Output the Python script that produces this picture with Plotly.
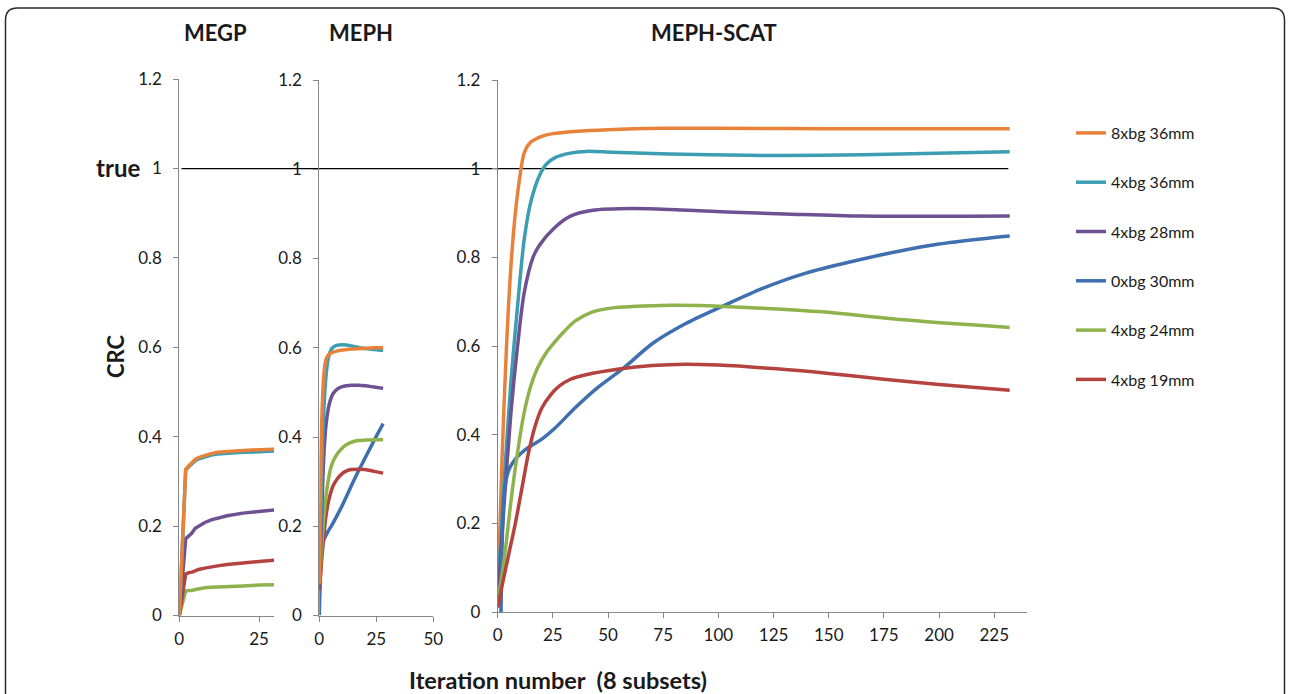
import plotly.graph_objects as go

W, H = 1290, 694

# ---------------- data ----------------
series_names = ["8xbg 36mm", "4xbg 36mm", "4xbg 28mm", "0xbg 30mm", "4xbg 24mm", "4xbg 19mm"]
series_colors = ["#E8823A", "#3D9DB3", "#6E5193", "#3F6FAF", "#8EB24C", "#B4423F"]
true_value = 1.0

panel_titles = ["MEGP", "MEPH", "MEPH-SCAT"]

# MEGP
megp_x = [0, 2, 3, 4, 5, 6, 8, 10, 12, 15, 20, 25, 30]
megp_8x36 = [0, 0.327, 0.335, 0.342, 0.349, 0.353, 0.358, 0.362, 0.365, 0.367, 0.369, 0.371, 0.372]
megp_4x36 = [0, 0.325, 0.333, 0.340, 0.346, 0.350, 0.355, 0.359, 0.361, 0.363, 0.365, 0.366, 0.368]
megp_4x28 = [0, 0.172, 0.178, 0.185, 0.195, 0.200, 0.208, 0.214, 0.218, 0.223, 0.229, 0.233, 0.236]
megp_4x24 = [0, 0.055, 0.056, 0.056, 0.058, 0.060, 0.062, 0.063, 0.064, 0.065, 0.066, 0.068, 0.069]
megp_4x19 = [0, 0.093, 0.096, 0.097, 0.100, 0.103, 0.106, 0.109, 0.111, 0.114, 0.118, 0.121, 0.124]

# MEPH
meph_x = [0, 1, 2, 3, 4, 5, 6, 8, 10, 12, 14, 17, 20, 24, 28]
meph_8x36 = [0.07, 0.42, 0.54, 0.575, 0.584, 0.588, 0.590, 0.593, 0.595, 0.596, 0.597, 0.598, 0.599, 0.600, 0.600]
meph_4x36 = [0.07, 0.30, 0.46, 0.540, 0.578, 0.594, 0.601, 0.606, 0.607, 0.606, 0.604, 0.601, 0.598, 0.596, 0.594]
meph_4x28 = [0.06, 0.22, 0.36, 0.430, 0.465, 0.485, 0.497, 0.508, 0.513, 0.515, 0.516, 0.516, 0.515, 0.512, 0.509]
meph_0x30 = [0.00, 0.14, 0.17, 0.180, 0.190, 0.198, 0.207, 0.226, 0.246, 0.268, 0.290, 0.322, 0.352, 0.392, 0.430]
meph_4x24 = [0.068, 0.15, 0.22, 0.270, 0.305, 0.330, 0.345, 0.363, 0.375, 0.383, 0.388, 0.392, 0.393, 0.394, 0.394]
meph_4x19 = [0.056, 0.12, 0.18, 0.225, 0.255, 0.275, 0.290, 0.307, 0.318, 0.324, 0.327, 0.328, 0.327, 0.323, 0.319]

# MEPH-SCAT
scat_8x36_x = [0, 2, 4, 6, 8, 10, 12, 15, 20, 25, 35, 50, 75, 100, 150, 232]
scat_8x36 = [0.03, 0.35, 0.60, 0.78, 0.90, 0.98, 1.035, 1.06, 1.073, 1.079, 1.084, 1.088, 1.091, 1.091, 1.090, 1.090]
scat_4x36_x = [0, 3, 6, 9, 12, 15, 19, 22, 26, 33, 40, 52, 78, 113, 147, 182, 232]
scat_4x36 = [0.04, 0.30, 0.52, 0.69, 0.84, 0.925, 0.985, 1.01, 1.025, 1.035, 1.039, 1.037, 1.033, 1.030, 1.030, 1.033, 1.038]
scat_4x28_x = [0, 3, 6, 9, 12, 16, 19, 26, 33, 43, 61, 78, 104, 130, 165, 232]
scat_4x28 = [0.03, 0.25, 0.45, 0.60, 0.72, 0.80, 0.828, 0.868, 0.893, 0.906, 0.910, 0.908, 0.902, 0.898, 0.893, 0.893]
scat_0x30_x = [1.5, 2, 3, 5, 8, 13, 20, 26, 35, 45, 57, 70, 85, 102, 120, 140, 160, 180, 200, 220, 232]
scat_0x30 = [0.0, 0.15, 0.27, 0.32, 0.345, 0.368, 0.39, 0.415, 0.46, 0.505, 0.55, 0.605, 0.65, 0.69, 0.73, 0.765, 0.79, 0.812, 0.83, 0.842, 0.848]
scat_4x24_x = [0, 3, 6, 9, 12, 15, 18, 22, 26, 30, 35, 43, 52, 61, 78, 95, 113, 147, 182, 232]
scat_4x24 = [0.02, 0.12, 0.25, 0.36, 0.45, 0.51, 0.55, 0.585, 0.61, 0.632, 0.656, 0.677, 0.686, 0.689, 0.692, 0.691, 0.687, 0.677, 0.660, 0.642]
scat_4x19_x = [0, 2, 5, 8, 11, 14, 17, 20, 24, 28, 33, 40, 55, 70, 85, 100, 125, 150, 175, 200, 232]
scat_4x19 = [0.01, 0.06, 0.13, 0.20, 0.28, 0.36, 0.42, 0.46, 0.49, 0.51, 0.525, 0.535, 0.548, 0.556, 0.559, 0.557, 0.549, 0.538, 0.525, 0.513, 0.500]

x_tick_vals_small = [0, 25]
x_tick_vals_meph = [0, 25, 50]
x_tick_vals_scat = [0, 25, 50, 75, 100, 125, 150, 175, 200, 225]
y_tick_vals = [0, 0.2, 0.4, 0.6, 0.8, 1, 1.2]

# ---------------- layout helpers (arguments are page pixels) ----------------
def px_x(p):
    return p / W

def px_y(p):
    return 1 - p / H

FONT = "Lato, 'Open Sans', sans-serif"
AX_COLOR = "#868686"
TXT = "#1a1a1a"

fig = go.Figure()

def add(x, y, idx, xa, ya, shape="spline", legend=False):
    fig.add_trace(go.Scatter(
        x=x, y=y, mode="lines", name=series_names[idx],
        line=dict(color=series_colors[idx], width=3.5, shape=shape, smoothing=0.8),
        xaxis=xa, yaxis=ya, showlegend=legend, legendgroup=series_names[idx],
        hoverinfo="skip"))

add(scat_8x36_x, scat_8x36, 0, "x3", "y3", legend=True)
add(scat_4x36_x, scat_4x36, 1, "x3", "y3", legend=True)
add(scat_4x28_x, scat_4x28, 2, "x3", "y3", legend=True)
add(scat_0x30_x, scat_0x30, 3, "x3", "y3", legend=True)
add(scat_4x24_x, scat_4x24, 4, "x3", "y3", legend=True)
add(scat_4x19_x, scat_4x19, 5, "x3", "y3", legend=True)

add(megp_x, megp_4x24, 4, "x", "y", shape="linear")
add(megp_x, megp_4x19, 5, "x", "y", shape="linear")
add(megp_x, megp_4x28, 2, "x", "y", shape="linear")
add(megp_x, megp_4x36, 1, "x", "y", shape="linear")
add(megp_x, megp_8x36, 0, "x", "y", shape="linear")

add(meph_x, meph_0x30, 3, "x2", "y2")
add(meph_x, meph_4x19, 5, "x2", "y2")
add(meph_x, meph_4x24, 4, "x2", "y2")
add(meph_x, meph_4x28, 2, "x2", "y2")
add(meph_x, meph_4x36, 1, "x2", "y2")
add(meph_x, meph_8x36, 0, "x2", "y2")

TICK_SIZE = 17

def xaxis(domain, rng, tickvals, anchor):
    return dict(domain=domain, range=rng, tickvals=tickvals, anchor=anchor,
                showline=True, linecolor=AX_COLOR, linewidth=1, ticks="outside",
                tickcolor=AX_COLOR, ticklen=5, showgrid=False, zeroline=False,
                tickfont=dict(family=FONT, size=TICK_SIZE, color=TXT), ticklabelstandoff=3,
                automargin=False, fixedrange=True)

def yaxis(domain, anchor):
    return dict(domain=domain, range=[0, 1.2], tickvals=y_tick_vals, anchor=anchor,
                showline=True, linecolor=AX_COLOR, linewidth=1, ticks="outside",
                tickcolor=AX_COLOR, ticklen=5, showgrid=False, zeroline=False,
                tickfont=dict(family=FONT, size=TICK_SIZE, color=TXT), ticklabelstandoff=8,
                automargin=False, fixedrange=True)

fig.update_layout(
    template="none",
    width=W, height=H, margin=dict(l=0, r=0, t=0, b=0, pad=0, autoexpand=False),
    paper_bgcolor="white", plot_bgcolor="rgba(0,0,0,0)",
    font=dict(family=FONT, color=TXT),
    xaxis=xaxis([px_x(179.3), px_x(274)], [0, 29.7], x_tick_vals_small, "y"),
    yaxis=yaxis([px_y(615.5), px_y(79)], "x"),
    xaxis2=xaxis([px_x(319.3), px_x(433.3)], [0, 50], x_tick_vals_meph, "y2"),
    yaxis2=yaxis([px_y(615.5), px_y(80)], "x2"),
    xaxis3=xaxis([px_x(497.7), px_x(1026.7)], [0, 239.7], x_tick_vals_scat, "y3"),
    yaxis3=yaxis([px_y(612), px_y(80)], "x3"),
    legend=dict(x=px_x(1071), y=px_y(116), xanchor="left", yanchor="top",
                font=dict(family=FONT, size=16, color=TXT), tracegroupgap=25.5,
                bgcolor="rgba(0,0,0,0)", borderwidth=0, itemwidth=30),
    showlegend=True,
)

# reference "true" line
fig.add_shape(type="line", xref="paper", yref="y3", x0=px_x(181.5), x1=px_x(1008.3),
              y0=true_value, y1=true_value, line=dict(color="black", width=1.3), layer="below")

# rounded border
x0, x1, yt, yb = px_x(5.5), px_x(1284.5), px_y(8), px_y(730)
rx, ry = 12 / W, 12 / H
path = (f"M {x0},{yb} L {x0},{yt - ry} Q {x0},{yt} {x0 + rx},{yt} "
        f"L {x1 - rx},{yt} Q {x1},{yt} {x1},{yt - ry} L {x1},{yb}")
fig.add_shape(type="path", xref="paper", yref="paper", path=path,
              line=dict(color="#2a2a2a", width=1.5))

def ann(text, x, y, size, angle=0):
    fig.add_annotation(text=f"<b>{text}</b>", x=px_x(x), y=px_y(y), xref="paper", yref="paper",
                       showarrow=False, textangle=angle, xanchor="center", yanchor="middle",
                       font=dict(family=FONT, size=size, color=TXT))

ann(panel_titles[0], 215, 32, 22)
ann(panel_titles[1], 361, 32, 22)
ann(panel_titles[2], 714, 32, 22)
ann("true", 118, 167, 24)
ann("CRC", 115, 357, 22, angle=-90)
ann("Iteration number&nbsp;&nbsp;(8 subsets)", 558, 680, 23.5)

fig.write_html("out.html", config={"displayModeBar": False},
               post_script="document.body.style.margin='0';document.body.style.overflow='hidden';")
